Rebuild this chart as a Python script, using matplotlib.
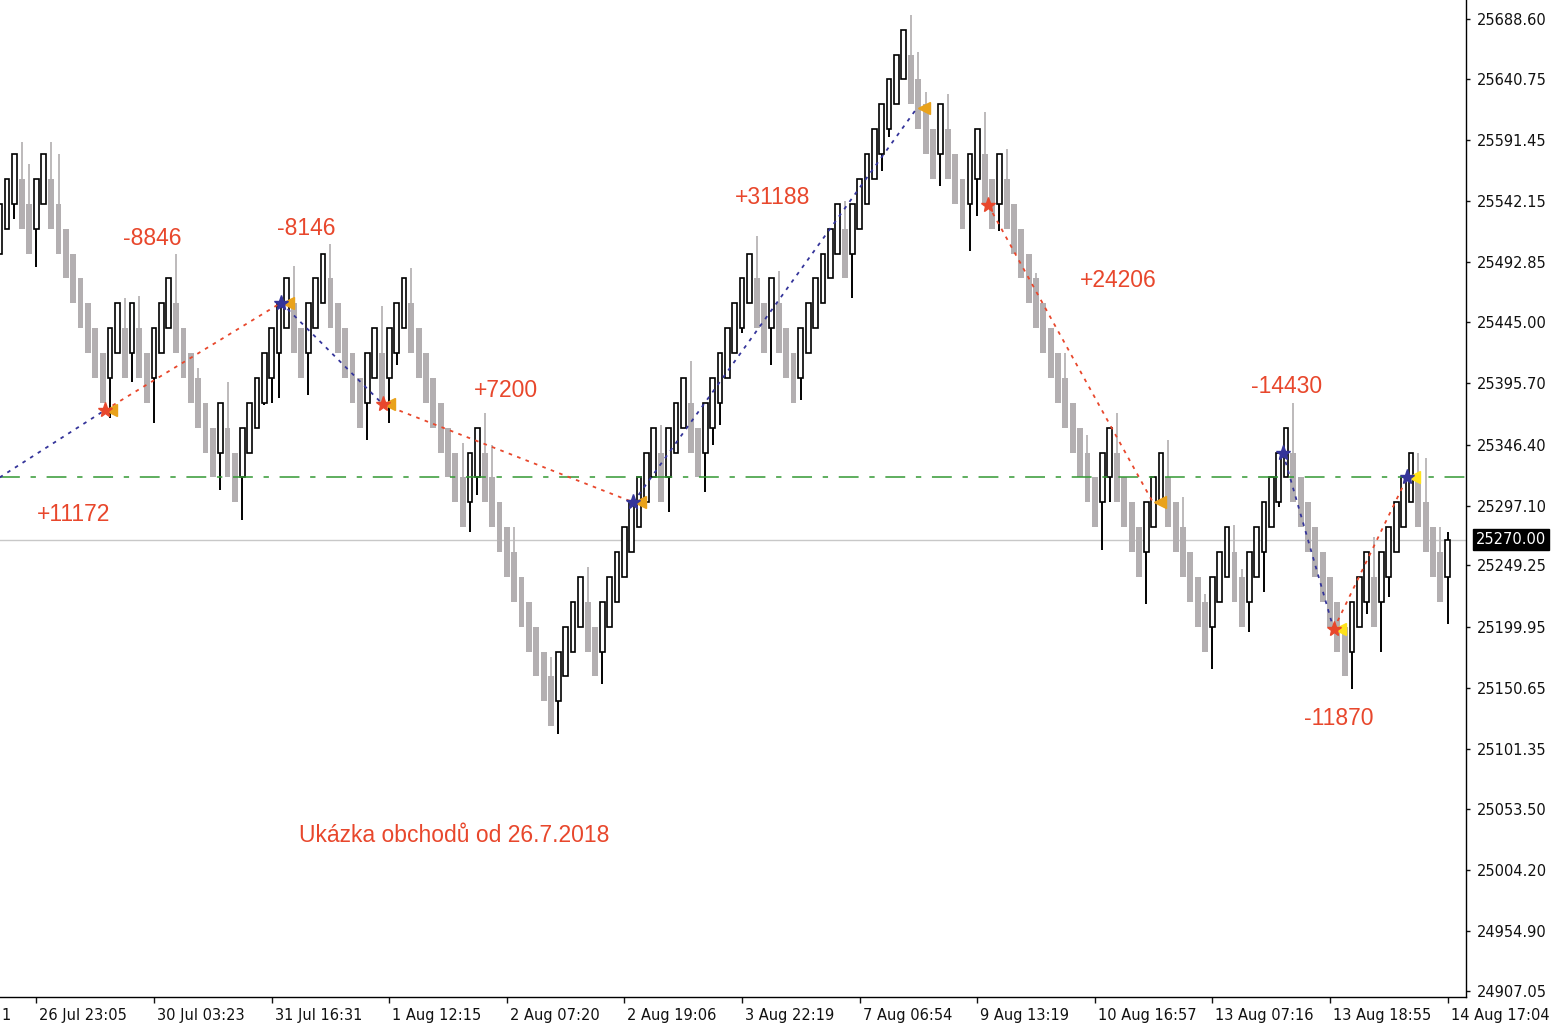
import matplotlib
matplotlib.use('Agg')
import matplotlib.pyplot as plt
import matplotlib.transforms as mtransforms

# renko bars (box open / close)
opens = [
    25500, 25520, 25540, 25560, 25540, 25520, 25540, 25560, 25540, 25520,
    25500, 25480, 25460, 25440, 25420, 25400, 25420, 25440, 25420, 25440,
    25420, 25400, 25420, 25440, 25460, 25440, 25420, 25400, 25380, 25360,
    25340, 25360, 25340, 25320, 25340, 25360, 25380, 25400, 25420, 25440,
    25460, 25440, 25420, 25440, 25460, 25480, 25460, 25440, 25420, 25400,
    25380, 25400, 25420, 25400, 25420, 25440, 25460, 25440, 25420, 25400,
    25380, 25360, 25340, 25320, 25300, 25320, 25340, 25320, 25300, 25280,
    25260, 25240, 25220, 25200, 25180, 25160, 25140, 25160, 25180, 25200,
    25220, 25200, 25180, 25200, 25220, 25240, 25260, 25280, 25300, 25320,
    25340, 25320, 25340, 25360, 25380, 25360, 25340, 25360, 25380, 25400,
    25420, 25440, 25460, 25480, 25460, 25440, 25460, 25440, 25420, 25400,
    25420, 25440, 25460, 25480, 25500, 25520, 25500, 25520, 25540, 25560,
    25580, 25600, 25620, 25640, 25660, 25640, 25620, 25600, 25580, 25600,
    25580, 25560, 25540, 25560, 25580, 25560, 25540, 25560, 25540, 25520,
    25500, 25480, 25460, 25440, 25420, 25400, 25380, 25360, 25340, 25320,
    25300, 25320, 25340, 25320, 25300, 25280, 25260, 25280, 25300, 25320,
    25300, 25280, 25260, 25240, 25220, 25200, 25220, 25240, 25260, 25240,
    25220, 25240, 25260, 25280, 25300, 25320, 25340, 25320, 25300, 25280,
    25260, 25240, 25220, 25200, 25180, 25200, 25220, 25240, 25220, 25240,
    25260, 25280, 25300, 25320, 25300, 25280, 25260, 25240,
]
closes = [
    25540, 25560, 25580, 25520, 25500, 25560, 25580, 25520, 25500, 25480,
    25460, 25440, 25420, 25400, 25380, 25440, 25460, 25400, 25460, 25400,
    25380, 25440, 25460, 25480, 25420, 25400, 25380, 25360, 25340, 25320,
    25380, 25320, 25300, 25360, 25380, 25400, 25420, 25440, 25460, 25480,
    25420, 25400, 25460, 25480, 25500, 25440, 25420, 25400, 25380, 25360,
    25420, 25440, 25380, 25440, 25460, 25480, 25420, 25400, 25380, 25360,
    25340, 25320, 25300, 25280, 25340, 25360, 25300, 25280, 25260, 25240,
    25220, 25200, 25180, 25160, 25140, 25120, 25180, 25200, 25220, 25240,
    25180, 25160, 25220, 25240, 25260, 25280, 25300, 25320, 25340, 25360,
    25300, 25360, 25380, 25400, 25340, 25320, 25380, 25400, 25420, 25440,
    25460, 25480, 25500, 25440, 25420, 25480, 25420, 25400, 25380, 25440,
    25460, 25480, 25500, 25520, 25540, 25480, 25540, 25560, 25580, 25600,
    25620, 25640, 25660, 25680, 25620, 25600, 25580, 25560, 25620, 25560,
    25540, 25520, 25580, 25600, 25540, 25520, 25580, 25520, 25500, 25480,
    25460, 25440, 25420, 25400, 25380, 25360, 25340, 25320, 25300, 25280,
    25340, 25360, 25300, 25280, 25260, 25240, 25300, 25320, 25340, 25280,
    25260, 25240, 25220, 25200, 25180, 25240, 25260, 25280, 25220, 25200,
    25260, 25280, 25300, 25320, 25340, 25360, 25300, 25280, 25260, 25240,
    25220, 25200, 25180, 25160, 25220, 25240, 25260, 25200, 25260, 25280,
    25300, 25320, 25340, 25280, 25260, 25240, 25220, 25270,
]
# wicks: bar index -> price
wick_high = {
    3: 25590, 4: 25572, 7: 25590, 8: 25580, 17: 25464, 19: 25466, 24: 25500,
    27: 25408, 31: 25397, 40: 25490, 45: 25508, 52: 25458, 56: 25488,
    63: 25348, 66: 25372, 67: 25346, 70: 25280, 75: 25176, 80: 25248,
    90: 25362, 94: 25414, 103: 25514, 106: 25486, 115: 25542, 124: 25692,
    125: 25662, 126: 25630, 129: 25628, 134: 25614, 137: 25584, 141: 25484,
    145: 25420, 148: 25354, 152: 25372, 159: 25350, 161: 25304, 164: 25226,
    168: 25282, 169: 25246, 176: 25380, 187: 25272, 193: 25340, 194: 25336,
    196: 25280, 197: 25276,
}
wick_low = {
    2: 25528, 5: 25489, 15: 25368, 18: 25397, 21: 25364, 30: 25310,
    33: 25286, 36: 25378, 37: 25380, 38: 25384, 42: 25386, 50: 25350,
    53: 25364, 54: 25410, 64: 25276, 65: 25306, 76: 25114, 82: 25154,
    91: 25292, 96: 25308, 97: 25346, 98: 25362, 101: 25436, 105: 25410,
    109: 25382, 116: 25464, 120: 25566, 121: 25594, 128: 25554, 132: 25502,
    133: 25530, 136: 25518, 150: 25262, 151: 25300, 156: 25218, 165: 25166,
    170: 25196, 172: 25228, 174: 25296, 184: 25150, 186: 25210, 188: 25180,
    189: 25224, 197: 25202,
}

tick_bars = [5, 21, 37, 53, 69, 85, 101, 117, 133, 149, 165, 181, 197]
tick_labels = ['26 Jul 23:05', '30 Jul 03:23', '31 Jul 16:31', '1 Aug 12:15',
               '2 Aug 07:20', '2 Aug 19:06', '3 Aug 22:19', '7 Aug 06:54',
               '9 Aug 13:19', '10 Aug 16:57', '13 Aug 07:16', '13 Aug 18:55',
               '14 Aug 17:04']
price_ticks = [25688.60, 25640.75, 25591.45, 25542.15, 25492.85, 25445.00,
               25395.70, 25346.40, 25297.10, 25249.25, 25199.95, 25150.65,
               25101.35, 25053.50, 25004.20, 24954.90, 24907.05]
last_price = 25270.00
level_price = 25320.0

# trades
trade_side = ['buy', 'sell', 'buy', 'sell', 'buy', 'sell', 'buy', 'sell']
trade_open_bar = [0.0, 14.3, 38.3, 52.1, 86.2, 134.5, 174.6, 181.5]
trade_open_price = [25320, 25374, 25460.5, 25379, 25300, 25539, 25339.6, 25198]
trade_close_bar = [14.3, 38.3, 52.1, 86.2, 124.8, 156.9, 181.5, 191.5]
trade_close_price = [25374, 25460.5, 25379, 25300, 25617, 25300, 25198, 25320]
open_trade = (191.5, 25320, 'buy')

profit_text = ['+11172', '-8846', '-8146', '+7200', '+31188', '+24206',
               '-14430', '-11870']
profit_bar = [10.0, 20.7, 41.7, 68.9, 105.1, 152.2, 175.1, 182.2]
profit_price = [25290, 25512, 25520, 25390, 25545, 25478, 25393, 25126]
caption = 'Ukázka obchodů od 26.7.2018'

red = '#E8472C'
blue = '#34349A'
grey_bar = '#B3AFB1'

fig = plt.figure(figsize=(15.6, 10.32), dpi=100)
ax = fig.add_axes([0, 35 / 1032, 1466 / 1560, 997 / 1032])

n = len(closes)
for i in range(n):
    o, c = opens[i], closes[i]
    lo, hi = min(o, c), max(o, c)
    up = c > o
    wc = 'black' if up else '#BDBABB'
    if i in wick_high:
        ax.vlines(i, hi, wick_high[i], color=wc, lw=1.4, zorder=2)
    if i in wick_low:
        ax.vlines(i, wick_low[i], lo, color=wc, lw=1.4, zorder=2)
    if up:
        ax.bar(i, hi - lo, bottom=lo, width=0.64, facecolor='white',
               edgecolor='black', linewidth=1.2, zorder=3)
    else:
        ax.bar(i, hi - lo, bottom=lo, width=0.8, color=grey_bar,
               linewidth=0, zorder=3)

ax.axhline(last_price, color='#C8C8C8', lw=1.0, zorder=1)
ax.axhline(level_price, color='#339933', lw=1.1, dashes=(13, 7, 3.5, 7), zorder=4)

for k in range(len(trade_side)):
    col = blue if trade_side[k] == 'buy' else red
    ax.plot([trade_open_bar[k], trade_close_bar[k]],
            [trade_open_price[k], trade_close_price[k]],
            color=col, lw=1.3, dashes=(2, 3), zorder=5)
    if trade_open_bar[k] > 0:
        ax.plot(trade_open_bar[k], trade_open_price[k], marker='*', ms=11,
                color=col, mec=col, zorder=7)
    tri = '#E9A21B' if k < 6 else '#FFE21A'
    ax.plot(trade_close_bar[k] + 0.9, trade_close_price[k], marker='<', ms=8.5,
            color=tri, mec=tri, zorder=6)
ob, op, oside = open_trade
ax.plot(ob, op, marker='*', ms=11, color=blue if oside == 'buy' else red, zorder=7)

for t, b, p in zip(profit_text, profit_bar, profit_price):
    ax.text(b, p, t, color=red, fontsize=16.5, family='Liberation Sans',
            ha='center', va='center', zorder=8)
ax.text(61.8, 25032, caption, color=red, fontsize=16.5, family='Liberation Sans',
        ha='center', va='center')

ax.set_xlim(0.04, 199.5)
ax.set_ylim(24902.2, 25703.9)

for s in ['top', 'left']:
    ax.spines[s].set_visible(False)
ax.spines['right'].set_linewidth(1.0)
ax.spines['bottom'].set_linewidth(1.0)

ax.yaxis.tick_right()
ax.set_yticks(price_ticks)
ax.set_yticklabels(['%.2f' % v for v in price_ticks])
ax.tick_params(axis='y', direction='out', length=3, width=1, pad=5,
               labelsize=10.5, colors='#111111')
ax.set_xticks(tick_bars)
ax.set_xticklabels(tick_labels, ha='left')
ax.tick_params(axis='x', direction='out', length=4.5, width=1, pad=3.5,
               labelsize=10.5, colors='#111111')
shift = mtransforms.ScaledTranslation(3 / 100, 0, fig.dpi_scale_trans)
for lbl in ax.get_xticklabels():
    lbl.set_transform(lbl.get_transform() + shift)

# partly hidden first date label and the current price box
ax.annotate('1', xy=(0, 0), xycoords='axes fraction', xytext=(1, -13),
            textcoords='offset points', fontsize=10.5, color='#111111',
            ha='left', va='center')
ax.annotate('%.2f' % last_price, xy=(1.0, last_price),
            xycoords=ax.get_yaxis_transform(), xytext=(7, 0),
            textcoords='offset points', fontsize=10.5, color='white',
            ha='left', va='center', annotation_clip=False,
            bbox=dict(facecolor='black', edgecolor='black', pad=2))

fig.savefig('out.png', dpi=100, facecolor='white')
